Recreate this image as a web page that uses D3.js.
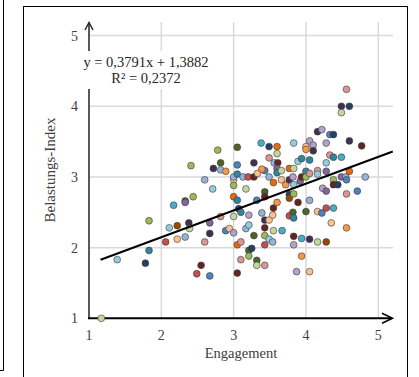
<!DOCTYPE html>
<html>
<head>
<meta charset="utf-8">
<script src="https://cdn.jsdelivr.net/npm/d3@7"></script>
<style>
  body { margin: 0; background: #fff; }
  svg { display: block; font-family: "Liberation Serif", "DejaVu Serif", serif; }
</style>
</head>
<body>
<svg id="chart" width="419" height="377"></svg>
<script>
// Engagement vs. Belastungs-Index
const engagement = [
  1.17, 1.39, 1.78, 1.83, 1.83, 2.06, 2.11, 2.17, 2.22, 2.22,
  2.33, 2.33, 2.33, 2.38, 2.39, 2.41, 2.44, 2.49, 2.55, 2.60,
  2.60, 2.67, 2.67, 2.67, 2.71, 2.72, 2.78, 2.82, 2.82, 2.82,
  2.89, 2.89, 2.94, 3.00, 3.00, 3.00, 3.00, 3.00, 3.00, 3.05,
  3.05, 3.05, 3.05, 3.07, 3.05, 3.05, 3.10, 3.10, 3.10, 3.13,
  3.17, 3.17, 3.20, 3.21, 3.21, 3.21, 3.21, 3.25, 3.28, 3.28,
  3.28, 3.32, 3.32, 3.32, 3.38, 3.39, 3.43, 3.43, 3.43, 3.43,
  3.43, 3.43, 3.43, 3.43, 3.49, 3.49, 3.49, 3.49, 3.49, 3.54,
  3.54, 3.55, 3.55, 3.55, 3.56, 3.60, 3.60, 3.61, 3.60, 3.60,
  3.60, 3.66, 3.66, 3.67, 3.72, 3.77, 3.77, 3.77, 3.77, 3.77,
  3.82, 3.83, 3.83, 3.83, 3.83, 3.83, 3.83, 3.83, 3.87, 3.89,
  3.89, 3.92, 3.94, 3.94, 3.94, 3.94, 4.00, 4.00, 4.00, 4.00,
  4.00, 4.05, 4.05, 4.05, 4.05, 4.05, 4.05, 4.10, 4.10, 4.16,
  4.16, 4.16, 4.16, 4.16, 4.22, 4.22, 4.23, 4.28, 4.28, 4.28,
  4.28, 4.28, 4.28, 4.33, 4.33, 4.35, 4.38, 4.38, 4.38, 4.38,
  4.38, 4.44, 4.49, 4.49, 4.49, 4.49, 4.55, 4.56, 4.56, 4.56,
  4.56, 4.60, 4.60, 4.60, 4.71, 4.77, 4.82, 3.33, 3.39, 3.82
];
const belastung = [
  1.00, 1.83, 1.78, 1.96, 2.38, 2.08, 2.28, 2.60, 2.12, 2.31,
  2.15, 2.66, 2.64, 2.35, 2.27, 3.16, 2.72, 1.63, 1.75, 2.96,
  2.08, 1.60, 2.35, 2.20, 2.83, 3.12, 3.38, 3.20, 3.10, 2.44,
  3.08, 2.24, 2.27, 2.96, 3.00, 2.88, 2.72, 2.44, 2.21, 3.42,
  3.17, 3.04, 2.67, 2.55, 2.04, 1.64, 2.50, 2.08, 1.83, 3.00,
  2.83, 2.27, 3.00, 2.46, 2.32, 1.96, 1.88, 1.99, 3.20, 3.00,
  2.17, 1.82, 1.75, 2.67, 3.48, 2.49, 3.09, 2.79, 2.72, 2.39,
  2.28, 2.17, 2.04, 1.75, 3.43, 3.27, 3.00, 2.39, 2.12, 2.08,
  2.46, 2.56, 2.92, 2.24, 3.20, 3.43, 3.33, 3.20, 3.12, 3.06,
  2.64, 3.09, 2.96, 2.24, 2.89, 3.12, 2.96, 2.75, 2.70, 2.45,
  2.50, 3.48, 3.12, 2.89, 2.76, 2.42, 2.16, 2.04, 1.66, 3.22,
  2.64, 2.94, 3.26, 3.00, 2.13, 1.88, 3.43, 3.39, 3.08, 3.00,
  2.51, 3.51, 3.24, 3.05, 2.67, 2.12, 1.66, 3.45, 3.37, 3.64,
  3.09, 3.04, 2.51, 2.08, 3.67, 2.49, 2.84, 3.48, 3.20, 3.08,
  2.80, 2.56, 2.08, 3.60, 3.31, 2.35, 3.60, 3.28, 2.96, 2.89,
  2.56, 2.89, 4.00, 3.91, 3.28, 3.00, 3.00, 2.96, 2.76, 4.24,
  2.28, 4.00, 3.51, 3.08, 2.80, 3.44, 3.00, 3.05, 3.11, 3.00
];
const pointColor = [
  "lg", "lc", "nv", "t", "g", "r", "lc", "c", "lo", "br",
  "lb", "dg", "p", "dp", "lg", "g", "g", "r", "dr", "lb",
  "pk", "b", "p", "dp", "lc", "dp", "g", "dg", "lb", "pk",
  "o", "b", "lo", "lo", "lb", "g", "do", "lg", "lp", "dg",
  "b", "t", "t", "nv", "do", "dr", "t", "pk", "pk", "lb",
  "lg", "lb", "r", "lp", "lc", "dg", "g", "nv", "dp", "dr",
  "dg", "dg", "lg", "b", "c", "lb", "b", "dg", "dr", "dp",
  "dr", "g", "r", "pk", "nv", "pk", "lb", "lo", "lc", "lb",
  "lo", "dr", "do", "lg", "lb", "do", "lg", "dr", "p", "t",
  "o", "lg", "lo", "c", "o", "do", "dp", "nv", "br", "r",
  "dg", "lc", "lg", "lc", "g", "t", "dr", "lp", "lp", "lc",
  "dr", "p", "t", "dr", "c", "o", "lo", "o", "t", "g",
  "dg", "lp", "t", "pk", "lb", "dp", "lo", "lp", "dp", "dp",
  "pk", "lc", "lo", "lg", "lp", "b", "lp", "lp", "lc", "p",
  "p", "r", "br", "b", "pk", "lo", "nv", "t", "g", "dr",
  "c", "nv", "dp", "lg", "c", "p", "lp", "b", "pk", "pk",
  "o", "nv", "dp", "do", "b", "dr", "lb", "lo", "o", "lp"
];
const palette = {
  g: "#9bbb59", lg: "#c3d69b", dg: "#4f6228",
  p: "#8064a2", lp: "#b3a2c7", dp: "#403151",
  b: "#4f81bd", lb: "#95b3d7", nv: "#254061",
  c: "#4bacc6", lc: "#93cddd", t: "#31859c",
  o: "#f79646", do: "#e46c0a", br: "#984807", lo: "#fac090",
  r: "#c0504d", dr: "#632523", pk: "#d99694"
};
const xTicks = [1, 2, 3, 4, 5];
const yTicks = [1, 2, 3, 4, 5];
const slope = 0.3791, intercept = 1.3882;
const trendFrom = 1.16, trendTo = 5.2;
const eqText = "y = 0,3791x + 1,3882";
const r2Text = "R² = 0,2372";

const svg = d3.select("#chart");
const x = d3.scaleLinear().domain([1, 5]).range([89, 378.3]);
const y = d3.scaleLinear().domain([1, 5]).range([318.3, 35.6]);

// outer frames
svg.append("path")
  .attr("d", "M3.5,0 V370.5 H0")
  .attr("fill", "none").attr("stroke", "#000").attr("stroke-width", 1);
svg.append("rect")
  .attr("x", 23.5).attr("y", 6.5).attr("width", 384).attr("height", 380)
  .attr("fill", "none").attr("stroke", "#000").attr("stroke-width", 1);

// grid
const grid = svg.append("g").attr("stroke", "#d9d9d9").attr("stroke-width", 1.5);
grid.selectAll(".gx").data(xTicks.slice(1)).enter().append("line")
  .attr("x1", d => x(d)).attr("x2", d => x(d))
  .attr("y1", 22).attr("y2", y(1));
grid.selectAll(".gy").data(yTicks.slice(1)).enter().append("line")
  .attr("x1", x(1)).attr("x2", 393)
  .attr("y1", d => y(d)).attr("y2", d => y(d));

// axes with arrows
svg.append("line")
  .attr("x1", x(1)).attr("x2", x(1)).attr("y1", y(1)).attr("y2", 22.5)
  .attr("stroke", "#595959").attr("stroke-width", 2);
svg.append("path")
  .attr("d", `M${x(1) - 4},30 L${x(1)},22.5 L${x(1) + 4},30`)
  .attr("fill", "none").attr("stroke", "#262626").attr("stroke-width", 1.5);
svg.append("line")
  .attr("x1", x(1) - 1).attr("x2", 392).attr("y1", y(1)).attr("y2", y(1))
  .attr("stroke", "#000").attr("stroke-width", 2);
svg.append("path")
  .attr("d", `M382,${y(1) - 5} L392.5,${y(1)} L382,${y(1) + 5}`)
  .attr("fill", "none").attr("stroke", "#000").attr("stroke-width", 1.5);

// tick labels
svg.append("g").selectAll("text").data(xTicks).enter().append("text")
  .attr("x", d => x(d)).attr("y", 340)
  .attr("text-anchor", "middle").attr("font-size", 14).attr("fill", "#404040")
  .text(d => d);
svg.append("g").selectAll("text").data(yTicks).enter().append("text")
  .attr("x", 78).attr("y", d => y(d) + 5)
  .attr("text-anchor", "end").attr("font-size", 14).attr("fill", "#404040")
  .text(d => d);

svg.append("text")
  .attr("x", 241).attr("y", 358).attr("text-anchor", "middle")
  .attr("font-size", 14.5).attr("fill", "#404040").text("Engagement");
svg.append("text")
  .attr("transform", "translate(55,170) rotate(-90)").attr("text-anchor", "middle")
  .attr("font-size", 15).attr("fill", "#404040").text("Belastungs-Index");

// points
svg.append("g").selectAll("circle").data(engagement).enter().append("circle")
  .attr("cx", d => x(d))
  .attr("cy", (d, i) => y(belastung[i]))
  .attr("r", 3.4)
  .attr("fill", (d, i) => palette[pointColor[i]])
  .attr("stroke", "#3a3a3a").attr("stroke-width", 0.6);

// trend line
svg.append("line")
  .attr("x1", x(trendFrom)).attr("y1", y(slope * trendFrom + intercept))
  .attr("x2", x(trendTo)).attr("y2", y(slope * trendTo + intercept))
  .attr("stroke", "#000").attr("stroke-width", 2);

// equation label box
svg.append("rect")
  .attr("x", 80).attr("y", 51).attr("width", 132).attr("height", 38)
  .attr("fill", "#fff");
svg.append("text")
  .attr("x", 146).attr("y", 67).attr("text-anchor", "middle")
  .attr("font-size", 14.5).attr("fill", "#262626").text(eqText);
svg.append("text")
  .attr("x", 146).attr("y", 83).attr("text-anchor", "middle")
  .attr("font-size", 14.5).attr("fill", "#262626").text(r2Text);
</script>
</body>
</html>
